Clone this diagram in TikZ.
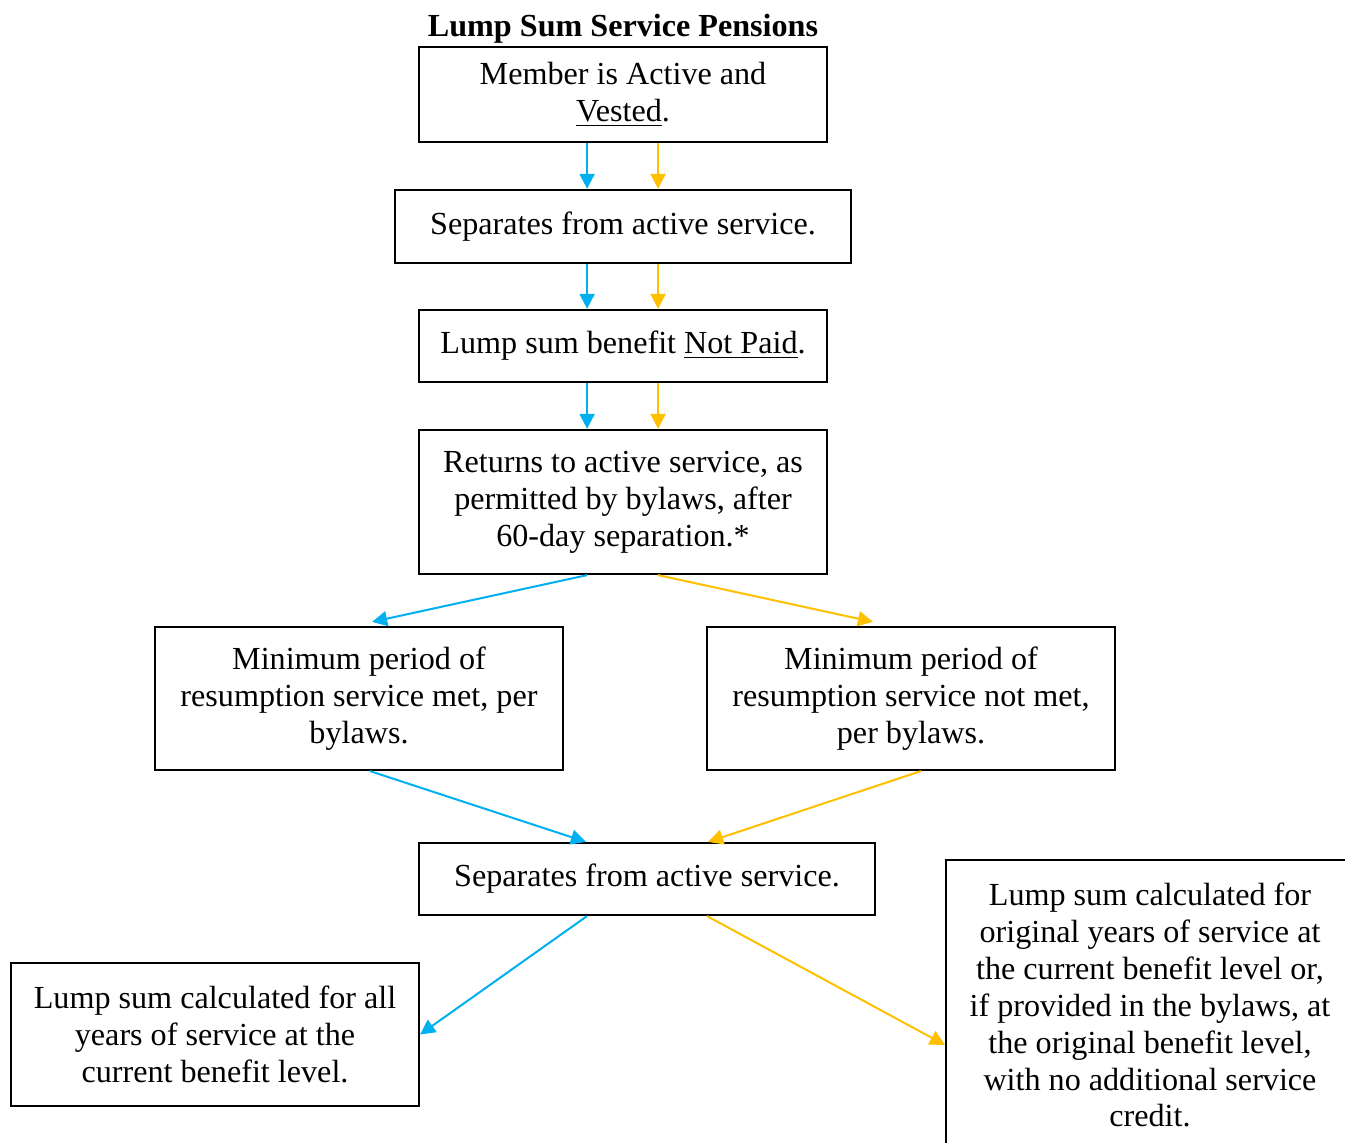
\documentclass[tikz,border=0pt]{standalone}
\usepackage{fontspec}
\setmainfont{Liberation Serif}
\usetikzlibrary{arrows.meta}
\definecolor{laneblue}{RGB}{0,176,240}
\definecolor{lanegold}{RGB}{255,192,0}

\begin{document}
\begin{tikzpicture}[x = 0.3733pt, y = -0.3733pt,
		box/.style = {draw, line width = 0.8pt, align = center, inner sep = 0pt, font = \fontsize{12}{13.8}\selectfont},
		blueline/.style = {draw = laneblue, line width = 0.75pt, -{Triangle[length = 5.6pt, width = 5.6pt]}},
		goldline/.style = {draw = lanegold, line width = 0.75pt, -{Triangle[length = 5.6pt, width = 5.6pt]}}]
	\useasboundingbox (0, 0) rectangle (1345, 1143);
	\clip (0, 0) rectangle (1345, 1143);
		\node[font = \fontsize{12}{13.8}\selectfont\bfseries] (title) at (623, 29) {Lump Sum Service Pensions};
		\node[box, minimum width = 152.3pt, minimum height = 35.5pt] (active) at (623, 94.5) {Member is Active and\\ \underline{Vested}.};
		\node[box, minimum width = 170.2pt, minimum height = 27.3pt] (sep1) at (623, 226.5) {Separates from active service.};
		\node[box, minimum width = 152.3pt, minimum height = 26.9pt] (notpaid) at (623, 346) {Lump sum benefit \underline{Not Paid}.};
		\node[box, minimum width = 152.3pt, minimum height = 53.8pt] (returns) at (623, 502) {Returns to active service, as\\ permitted by bylaws, after\\ 60-day separation.*};
		\node[box, minimum width = 152.3pt, minimum height = 53.4pt] (met) at (359, 698.5) {Minimum period of\\ resumption service met, per\\ bylaws.};
		\node[box, minimum width = 152.3pt, minimum height = 53.4pt] (notmet) at (911, 698.5) {Minimum period of\\ resumption service not met,\\ per bylaws.};
		\node[box, minimum width = 170.2pt, minimum height = 26.9pt] (sep2) at (647, 879) {Separates from active service.};
		\node[box, minimum width = 152.3pt, minimum height = 53.4pt] (allyears) at (215, 1034.5) {Lump sum calculated for all\\ years of service at the\\ current benefit level.};
		\node[box, minimum width = 152.3pt, minimum height = 108.3pt] (original) at (1150, 1005) {Lump sum calculated for\\ original years of service at\\ the current benefit level or,\\ if provided in the bylaws, at\\ the original benefit level,\\ with no additional service\\ credit.};
	% straight down
	\draw[blueline] ([xshift = -13.4pt]active.south) -- ([xshift = -13.4pt]sep1.north);
	\draw[goldline] ([xshift = 13.1pt]active.south) -- ([xshift = 13.1pt]sep1.north);
	\draw[blueline] ([xshift = -13.4pt]sep1.south) -- ([xshift = -13.4pt]notpaid.north);
	\draw[goldline] ([xshift = 13.1pt]sep1.south) -- ([xshift = 13.1pt]notpaid.north);
	\draw[blueline] ([xshift = -13.4pt]notpaid.south) -- ([xshift = -13.4pt]returns.north);
	\draw[goldline] ([xshift = 13.1pt]notpaid.south) -- ([xshift = 13.1pt]returns.north);
	% the two branches
	\draw[blueline] ([xshift = -13.4pt]returns.south) -- ([xshift = 4.9pt, yshift = 1.5pt]met.north);
	\draw[goldline] ([xshift = 13.1pt]returns.south) -- ([xshift = -14.2pt, yshift = 1.5pt]notmet.north);
	\draw[blueline] ([xshift = 4.1pt]met.south) -- ([xshift = -22.8pt]sep2.north);
	\draw[goldline] ([xshift = 3.7pt]notmet.south) -- ([xshift = 22.8pt]sep2.north);
	\draw[blueline] ([xshift = -22.4pt]sep2.south) -- (allyears.east);
	\draw[goldline] ([xshift = 22.4pt]sep2.south) -- ([yshift = -14.9pt]original.west);
\end{tikzpicture}
\end{document}
